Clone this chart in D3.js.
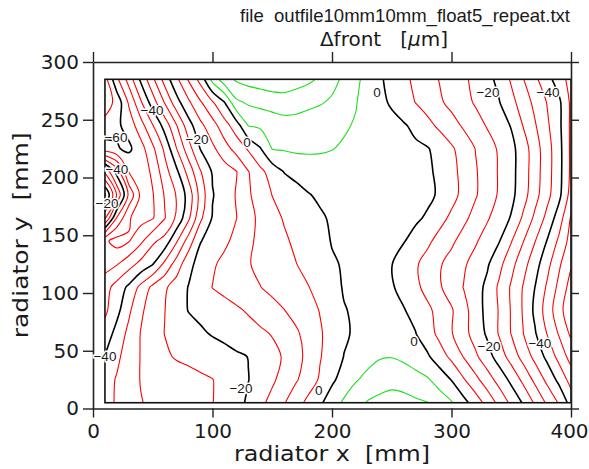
<!DOCTYPE html>
<html>
<head>
<meta charset="utf-8">
<script src="https://cdn.jsdelivr.net/npm/d3@7/dist/d3.min.js"></script>
<style>
  body { margin: 0; background: #fff; }
  text { font-family: "DejaVu Sans", sans-serif; fill: #1a1a1a; white-space: pre; }
</style>
</head>
<body>
<svg id="chart" width="589" height="469"></svg>
<script>
// Measurement grid: x every 10 mm, y every 20 mm
const xGrid = d3.range(10, 401, 10);   // 40 columns
const yGrid = d3.range(5, 286, 20);    // 15 rows (bottom to top)

// Δfront [µm] on the grid, one row per yGrid value, from y = 5 mm up to y = 285 mm
const rows = [
  [-36.6,-34.5,-32.3,-30.2,-29.2,-28.4,-27.6,-26.7,-25.9,-25.1,-23.5,-21.5,-19.3,-16.3,-13.3,-10.3,-6.9,-3.8,-0.8,2.6,5.8,8.2,10.4,11.3,12,11.6,10.8,10.1,7.8,5.4,1.7,-2.3,-6.7,-11.5,-16.1,-20.5,-25.8,-30.8,-35.5,-42],
  [-37,-34.6,-32.2,-29.8,-28.9,-28.1,-27.4,-26.7,-25.9,-25.1,-23.6,-21.9,-20.1,-18,-15.9,-12.9,-10.5,-7.5,-4.4,-0.9,2,4.6,6.4,7.8,8.4,8,6.9,5.5,2.8,-0.2,-4.5,-8.6,-12.8,-16.9,-21.3,-26.3,-31.3,-36.3,-41.4,-47],
  [-39.8,-36,-32.7,-29.8,-27.8,-25.8,-24.5,-23.8,-23,-22.5,-21.7,-20.7,-19.9,-18.1,-16.4,-14.5,-11.7,-8.6,-5.3,-2.6,0.1,1.8,3.3,4.6,4.8,3.9,2.3,0.6,-2.6,-6.2,-10.2,-14.1,-18,-22.4,-27.1,-31.8,-36.5,-41.3,-46.7,-52],
  [-43,-38.2,-33.7,-29.8,-27.3,-24.9,-23.4,-22,-20.7,-19.6,-18.7,-17.7,-16.8,-15.8,-14.7,-12.7,-10.7,-8.2,-5.5,-3,-0.6,0.6,1,1.1,0.9,0.5,0.1,-2.7,-6.4,-9.7,-13.3,-17,-20.8,-25.5,-30.2,-34.9,-39.6,-45.2,-50.5,-56],
  [-46,-41.5,-35.9,-30.8,-27.7,-25.1,-22.3,-19.8,-18.8,-17.8,-16.8,-15.7,-14.5,-13.1,-11.6,-10.1,-8.4,-6.6,-4.8,-2.5,-0.2,0.5,0.8,0.8,0.6,0.2,-1.1,-3.9,-6.8,-9.5,-13.3,-17.4,-21.6,-25.4,-30.4,-35.5,-41.1,-47.3,-53,-59],
  [-47,-43,-39,-33.6,-28.8,-25.8,-22.6,-19.8,-17.1,-14.9,-13.7,-12.6,-11.3,-10.1,-8.8,-7.6,-6.4,-5.2,-3.3,-1.3,0.3,0.6,0.7,0.6,0.3,-1,-3.8,-6.7,-9.5,-12.1,-15.1,-17.9,-21.2,-25.9,-30.6,-35.3,-40.1,-45.7,-51.3,-57],
  [-52,-50.3,-47,-43.5,-40.2,-33.8,-27.7,-21.5,-18,-15.7,-13.7,-12,-10.3,-8.9,-7.6,-6.3,-5.1,-3.5,-1.9,-0.4,0.3,0.6,0.6,0.4,0.1,-1.9,-4.4,-6.9,-9.5,-11.8,-14.3,-16.8,-19.4,-23.6,-28.4,-33.2,-38,-43.4,-49.2,-54.5],
  [-54,-57,-55.3,-51,-46,-43.2,-35.5,-27.7,-20.2,-18.1,-16,-13.6,-10.9,-8.9,-7.3,-5.7,-4.1,-2.7,-1.2,0.2,0.7,1,1.1,0.9,0.6,0.2,-1.3,-4,-6.7,-9.1,-11.8,-14.4,-17.1,-19.8,-24.7,-29.8,-34.9,-40.2,-46,-52],
  [-29,-45.4,-54.6,-57,-55.4,-50.3,-44,-36,-26,-19.6,-17.3,-15.1,-11.7,-8.8,-6.5,-4.6,-3.3,-2,-0.65,0.6,1.3,1.8,2,1.9,1.6,1.1,0.6,-0.5,-3.3,-6,-8.8,-11.7,-14.5,-17.4,-20.4,-25.8,-31.1,-36.4,-42.5,-50.5],
  [-14,-30.5,-46,-56,-55.3,-49.6,-44.6,-38,-28,-20.3,-17.4,-14.7,-10.7,-7.6,-4.9,-3.3,-1.8,-0.3,0.8,1.6,2.2,2.6,2.8,2.8,2.6,2.1,1.5,0.8,-0.5,-3.3,-6.4,-9.5,-12.6,-15.6,-18.7,-23,-28.3,-33.5,-38.7,-47],
  [-31,-42,-55.2,-58,-54,-47,-41,-33,-25.3,-19.5,-17.3,-15.2,-10.2,-6.25,-2.9,0.2,1.5,2.5,3.2,3.6,3.8,3.7,3.4,3,2.5,1.9,1.3,0.6,-0.75,-3.5,-6.5,-9.5,-12.5,-15.5,-18.5,-22.6,-27.8,-33,-38.3,-46],
  [-58,-59.6,-61,-57,-51,-44,-35,-27,-19.7,-16,-12.1,-8.1,-4.4,-0.3,5.2,5.5,5.9,5.8,5.5,5.1,4.6,4,3.4,2.8,2.1,1.5,0.9,0.3,-1.7,-4.3,-7.1,-10.1,-12.9,-15.7,-18.6,-22.6,-27.8,-33,-38.3,-46],
  [-63,-61,-58,-52,-45.3,-38,-30.2,-22,-16.2,-12,-7,-2.4,5.2,5.9,6.7,7.6,7.9,7.1,6.5,6,5.4,4.7,3.6,2.6,1.6,0.5,-1.2,-3.6,-6,-8.2,-10.6,-13,-15.4,-17.8,-20.3,-25.2,-29.6,-34.2,-38.8,-46],
  [-68,-63.3,-54.3,-45.7,-37.4,-29.7,-21.9,-15.9,-10.5,-5.5,-0.2,9,10.7,11.5,12.4,13,12.2,11.4,10.5,9.2,7.2,5.2,3.2,1.3,-0.7,-2.9,-5.1,-7.1,-9.3,-11.3,-13.4,-15.5,-17.7,-19.8,-23.5,-27.4,-31.3,-35.2,-39,-46],
  [-67,-56,-48,-39,-31,-23,-16,-9.5,-3.2,6.7,13.1,15.6,16.8,17.5,18,17.7,17,16,14.3,11.7,9,6,3.3,0.7,-1.7,-3.9,-6,-8,-10.2,-12,-14.1,-16.3,-18.5,-21.4,-25.6,-29.8,-34,-38.2,-42.5,-47]
];

// Contour levels (µm)
const levels = d3.range(-70, 21, 5);

// Contour labels: level and position (mm)
const labelLevels = [-40, -20, 0, -60, -40, -20, -40, -20, 0, 0, 0, -20, -40, -20, -40];
const labelX = [49.4, 87, 128.9, 19.2, 20, 11.7, 10, 123.8, 189, 237.7, 268.6, 331.4, 374, 330.5, 380.8];
const labelY = [258.4, 233.3, 230, 234.2, 206.5, 177.9, 44.6, 16.9, 15.2, 274, 57.6, 54.1, 56.7, 273.2, 273.2];

// Axis ticks
const xTicks = [0, 100, 200, 300, 400];
const yTicks = [0, 50, 100, 150, 200, 250, 300];

const svg = d3.select("#chart");
const x = d3.scaleLinear().domain([0, 400]).range([93, 571]);
const y = d3.scaleLinear().domain([0, 300]).range([408.5, 62]);

const nx = xGrid.length, ny = yGrid.length;
const dxg = xGrid[1] - xGrid[0], dyg = yGrid[1] - yGrid[0];
const values = rows.flat();

const contours = d3.contours().size([nx, ny]).thresholds(levels)(values);

// Break each ring at the grid border so only the iso-lines themselves are stroked
const EPS = 1e-9;
const same = (a, b) => Math.abs(a - b) < EPS;
function onSameEdge(p, q) {
  return (same(p[0], 0.5) && same(q[0], 0.5)) ||
         (same(p[0], nx - 0.5) && same(q[0], nx - 0.5)) ||
         (same(p[1], 0.5) && same(q[1], 0.5)) ||
         (same(p[1], ny - 0.5) && same(q[1], ny - 0.5));
}
function splitRing(ring) {
  const pts = ring.slice(0, -1).map(([a, b]) => [
    Math.min(Math.max(a, 0.5), nx - 0.5),
    Math.min(Math.max(b, 0.5), ny - 0.5)
  ]);
  const n = pts.length;
  let k = -1;
  for (let i = 0; i < n; i++) if (onSameEdge(pts[i], pts[(i + 1) % n])) { k = i; break; }
  if (k < 0) return [{ closed: true, pts }];
  const out = [];
  let cur = [pts[(k + 1) % n]];
  for (let s = 1; s <= n; s++) {
    const a = pts[(k + s) % n], b = pts[(k + s + 1) % n];
    if (onSameEdge(a, b)) { if (cur.length > 1) out.push({ closed: false, pts: cur }); cur = [b]; }
    else cur.push(b);
  }
  if (cur.length > 1) out.push({ closed: false, pts: cur });
  return out;
}
const toMM = ([c, r]) => [xGrid[0] + (c - 0.5) * dxg, yGrid[0] + (r - 0.5) * dyg];

const colorOf = v => v > 0 ? "#1ee01e" : (v % 20 === 0 ? "#000000" : "#ff0000");
const widthOf = v => v > 0 ? 1.1 : (v % 20 === 0 ? 1.6 : 1.1);

const openLine = d3.line().x(d => x(d[0])).y(d => y(d[1])).curve(d3.curveCatmullRom.alpha(0.5));
const closedLine = d3.line().x(d => x(d[0])).y(d => y(d[1])).curve(d3.curveCatmullRomClosed.alpha(0.5));

svg.append("clipPath").attr("id", "plotClip")
  .append("rect")
  .attr("x", x(xGrid[0])).attr("y", y(yGrid[ny - 1]))
  .attr("width", x(xGrid[nx - 1]) - x(xGrid[0]))
  .attr("height", y(yGrid[0]) - y(yGrid[ny - 1]));

const gLines = svg.append("g").attr("clip-path", "url(#plotClip)");
contours.forEach(c => {
  const pieces = [];
  c.coordinates.forEach(poly => poly.forEach(ring => splitRing(ring).forEach(p => pieces.push(p))));
  gLines.selectAll(null)
    .data(pieces)
    .join("path")
    .attr("d", p => (p.closed ? closedLine : openLine)(p.pts.map(toMM)))
    .attr("fill", "none")
    .attr("stroke", colorOf(c.value))
    .attr("stroke-width", widthOf(c.value))
    .attr("stroke-linejoin", "round");
});

// Border of the measured area
svg.append("rect")
  .attr("x", x(xGrid[0])).attr("y", y(yGrid[ny - 1]))
  .attr("width", x(xGrid[nx - 1]) - x(xGrid[0]))
  .attr("height", y(yGrid[0]) - y(yGrid[ny - 1]))
  .attr("fill", "none").attr("stroke", "#111").attr("stroke-width", 1.6);

// Axes on all four sides, ticks pointing outward
const axisStyle = g => {
  g.selectAll(".domain").attr("stroke", "#222").attr("stroke-width", 1.6);
  g.selectAll(".tick line").attr("stroke", "#222").attr("stroke-width", 1.4);
  g.selectAll(".tick text").style("font-size", "20px").attr("fill", "#1a1a1a");
};
const gxAxis = svg.append("g").attr("transform", `translate(0,${y(0)})`)
  .call(d3.axisBottom(x).tickValues(xTicks).tickSize(9).tickSizeOuter(0).tickPadding(6).tickFormat(d3.format("d")))
  .call(axisStyle);
// keep the last label inside the page
gxAxis.selectAll(".tick text").filter(d => d === xTicks[xTicks.length - 1]).attr("dx", "-2");
svg.append("g").attr("transform", `translate(0,${y(300)})`)
  .call(d3.axisTop(x).tickValues(xTicks).tickSize(10).tickSizeOuter(0).tickFormat(""))
  .call(axisStyle);
svg.append("g").attr("transform", `translate(${x(0)},0)`)
  .call(d3.axisLeft(y).tickValues(yTicks).tickSize(10).tickSizeOuter(0).tickPadding(4).tickFormat(d3.format("d")))
  .call(axisStyle);
svg.append("g").attr("transform", `translate(${x(400)},0)`)
  .call(d3.axisRight(y).tickValues(yTicks).tickSize(8).tickSizeOuter(0).tickFormat(""))
  .call(axisStyle);

// Contour labels
svg.append("g").selectAll("text")
  .data(labelLevels.map((v, i) => ({ v, x: labelX[i], y: labelY[i] })))
  .join("text")
  .attr("x", d => x(d.x)).attr("y", d => y(d.y))
  .attr("text-anchor", "middle").attr("dominant-baseline", "central")
  .style("font-family", "'Liberation Sans', Arial, sans-serif")
  .style("font-size", "13.5px")
  .attr("stroke", "#fff").attr("stroke-width", 3).attr("paint-order", "stroke")
  .text(d => d.v < 0 ? "\u2212" + Math.abs(d.v) : String(d.v));

// Titles
svg.append("text").attr("x", 240).attr("y", 22).attr("text-anchor", "start")
  .style("font-family", "'Liberation Sans', Arial, sans-serif")
  .style("font-size", "18.5px").attr("textLength", 330).attr("lengthAdjust", "spacingAndGlyphs")
  .text("file  outfile10mm10mm_float5_repeat.txt");
const t2 = svg.append("text").attr("x", 384).attr("y", 46).attr("text-anchor", "middle").style("font-size", "20px");
t2.append("tspan").text("\u0394front   [");
t2.append("tspan").style("font-style", "italic").text("\u03bc");
t2.append("tspan").text("m]");

svg.append("text").attr("x", 332).attr("y", 461).attr("text-anchor", "middle")
  .style("font-size", "21px").attr("textLength", 196).attr("lengthAdjust", "spacingAndGlyphs")
  .text("radiator x  [mm]");
svg.append("text").attr("transform", `translate(28,${(y(0) + y(300)) / 2}) rotate(-90)`)
  .attr("text-anchor", "middle").style("font-size", "21px")
  .attr("textLength", 206).attr("lengthAdjust", "spacingAndGlyphs")
  .text("radiator y  [mm]");
</script>
</body>
</html>
